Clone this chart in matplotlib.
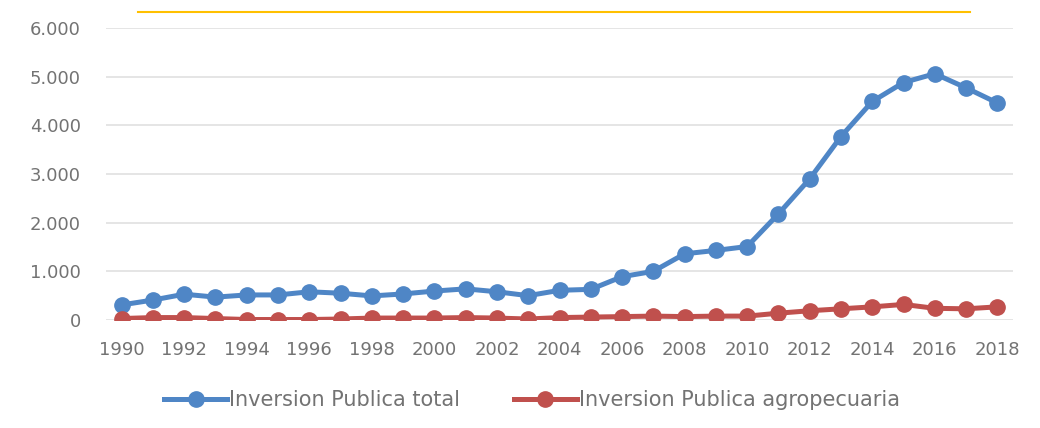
import matplotlib
matplotlib.use("Agg")
import matplotlib.pyplot as plt
from matplotlib.ticker import FuncFormatter
from matplotlib.lines import Line2D

years = list(range(1990, 2019))
total = [310, 410, 530, 470, 515, 515, 580, 550, 495, 535, 595, 640, 580,
         500, 610, 630, 890, 1000, 1360, 1430, 1510, 2180, 2900, 3770, 4490,
         4880, 5060, 4770, 4460]
agro = [30, 50, 50, 30, 10, 10, 10, 20, 40, 40, 40, 50, 40,
        20, 50, 60, 70, 80, 70, 80, 80, 140, 190, 230, 270,
        320, 240, 230, 270]
y_ticks = [0, 1000, 2000, 3000, 4000, 5000, 6000]
label_total = "Inversion Publica total"
label_agro = "Inversion Publica agropecuaria"

W, H = 1040, 428
fig = plt.figure(figsize=(W / 100, H / 100), dpi=100)
ax = fig.add_axes([106 / W, 1 - 320 / H, (1013 - 106) / W, (320 - 28) / H])

blue = "#4F86C6"
red = "#C0504D"
txt = "#737373"

x = list(range(len(years)))
ax.plot(x, total, color=blue, lw=3.6, marker="o", ms=11, zorder=3,
        label=label_total)
ax.plot(x, agro, color=red, lw=3.6, marker="o", ms=11, zorder=3,
        label=label_agro)

ax.set_xlim(-0.5, len(years) - 0.5)
ax.set_ylim(0, 6000)
ax.set_yticks(y_ticks)
ax.yaxis.set_major_formatter(FuncFormatter(lambda v, p: f"{int(v):,}".replace(",", ".")))
ax.set_xticks(x[::2])
ax.set_xticklabels([str(y) for y in years[::2]])
ax.grid(axis="y", color="#E0E0E0", lw=1.2, zorder=0)
ax.grid(axis="x", visible=False)
for s in ax.spines.values():
    s.set_visible(False)
ax.tick_params(axis="both", length=0, labelsize=13, labelcolor=txt)
ax.tick_params(axis="y", pad=18)
ax.tick_params(axis="x", pad=15)

# orange line at the top
fig.add_artist(Line2D([138 / W, 970 / W], [1 - 12 / H, 1 - 12 / H],
                      color="#FFC000", lw=1.5))

leg = fig.legend(loc="center", bbox_to_anchor=(532 / W, 1 - 400 / H), ncol=2,
                 frameon=False, fontsize=15, handlelength=3.0,
                 columnspacing=2.6, handletextpad=0.1)
for t in leg.get_texts():
    t.set_color(txt)

fig.savefig("out.png", dpi=100)
